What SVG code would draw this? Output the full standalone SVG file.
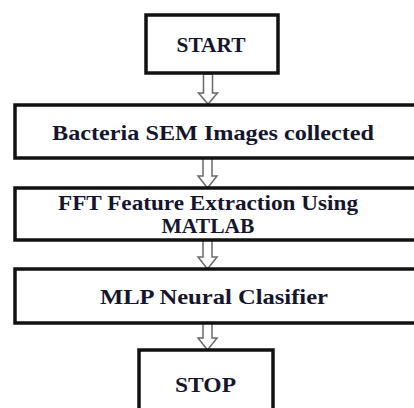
<svg xmlns="http://www.w3.org/2000/svg" width="414" height="408" viewBox="0 0 414 408">
<style>
.box{fill:#fff;stroke:#111;stroke-width:3.5}
.lbl{font-family:"Liberation Serif","Times New Roman",serif;font-weight:bold;font-size:21px;fill:#15152e;text-anchor:middle}
.arr{fill:#fff;stroke:#6a6a6a;stroke-width:1.5;stroke-linejoin:miter}
</style>
<rect width="414" height="408" fill="#fff"/>
<g id="connectors">
<polygon class="arr" points="203.5,74 203.5,93 198.5,93 208,104 217.5,93 212.5,93 212.5,74"/>
<polygon class="arr" points="203,158 203,176 198,176 207.5,188 217,176 212,176 212,158"/>
<polygon class="arr" points="203,240 203,257 198,257 207.5,269 217,257 212,257 212,240"/>
<polygon class="arr" points="203,323 203,338 198,338 207.5,350 217,338 212,338 212,323"/>
</g>
<g id="start">
<rect class="box" x="146" y="15" width="132" height="58"/>
<text class="lbl" x="211" y="52" textLength="69" lengthAdjust="spacingAndGlyphs">START</text>
</g>
<g id="collect">
<rect class="box" x="15" y="105" width="410" height="53"/>
<text class="lbl" x="213" y="140" textLength="322" lengthAdjust="spacingAndGlyphs">Bacteria SEM Images collected</text>
</g>
<g id="fft">
<rect class="box" x="15" y="188" width="410" height="52"/>
<text class="lbl" x="208" y="210" textLength="300" lengthAdjust="spacingAndGlyphs">FFT Feature Extraction Using</text>
<text class="lbl" x="208" y="233" textLength="93" lengthAdjust="spacingAndGlyphs">MATLAB</text>
</g>
<g id="mlp">
<rect class="box" x="15" y="269" width="410" height="54"/>
<text class="lbl" x="214" y="304" textLength="228" lengthAdjust="spacingAndGlyphs">MLP Neural Clasifier</text>
</g>
<g id="stop">
<rect class="box" x="139" y="350" width="134" height="70"/>
<text class="lbl" x="205.5" y="392" textLength="61" lengthAdjust="spacingAndGlyphs">STOP</text>
</g>
</svg>
